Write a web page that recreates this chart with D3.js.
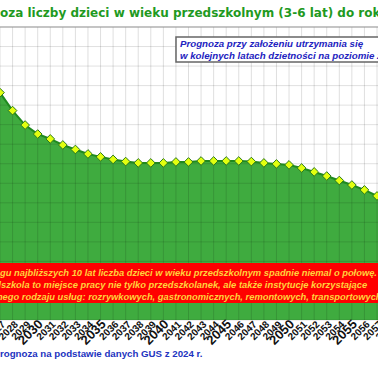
<!DOCTYPE html>
<html>
<head>
<meta charset="utf-8">
<script src="https://cdn.jsdelivr.net/npm/d3@7"></script>
<style>
  body { margin: 0; background: #fff; }
  svg { display: block; }
</style>
</head>
<body>
<svg id="chart" width="378" height="370"></svg>
<script>
// years (2026 and 2058 fall just outside the cropped view)
const years = [2026, 2027, 2028, 2029, 2030, 2031, 2032, 2033, 2034, 2035, 2036, 2037,
  2038, 2039, 2040, 2041, 2042, 2043, 2044, 2045, 2046, 2047, 2048, 2049, 2050,
  2051, 2052, 2053, 2054, 2055, 2056, 2057, 2058];
// children aged 3-6, thousands
const children = [1260, 1164, 1072, 998, 952, 927, 896, 873, 850, 835, 822, 811,
  804, 804, 804, 809, 809, 814, 814, 814, 814, 811, 804, 799, 794,
  778, 758, 737, 714, 691, 666, 635, 605];
const bigYears = [2030, 2035, 2040, 2045, 2050, 2055, 2060];

const titleText = 'Prognoza liczby dzieci w wieku przedszkolnym (3-6 lat) do roku 2060';
const noteLines = ['Prognoza przy założeniu utrzymania się',
  'w kolejnych latach dzietności na poziomie 2024 r.'];
const redLines = ['W ciągu najbliższych 10 lat liczba dzieci w wieku przedszkolnym spadnie niemal o połowę.',
  'Przedszkola to miejsce pracy nie tylko przedszkolanek, ale także instytucje korzystające',
  'z różnego rodzaju usług: rozrywkowych, gastronomicznych, remontowych, transportowych., etc.'];
const sourceText = 'Prognoza na podstawie danych GUS z 2024 r.';

const data = years.map((y, i) => ({ year: y, value: children[i] }));

const svg = d3.select('#chart');
const plotTop = 27, plotBottom = 320;
const arial = 'Arial, "Liberation Sans", sans-serif';

const x = d3.scaleLinear().domain([2027, 2057]).range([0, 377]);
const y = d3.scaleLinear().domain([0, 1500]).range([plotBottom, plotTop]);

// width of a piece of text, used to push the cropped start off the left edge
function textWidth(str, font, size, weight, style) {
  const t = svg.append('text')
    .attr('font-family', font)
    .attr('font-size', size)
    .attr('font-weight', weight)
    .attr('font-style', style || 'normal')
    .text(str);
  const w = t.node().getComputedTextLength();
  t.remove();
  return w;
}

// title
const titleFont = 'Verdana, "DejaVu Sans", sans-serif';
svg.append('text')
  .attr('x', -textWidth('Progn', titleFont, 12, 'bold'))
  .attr('y', 17)
  .attr('font-family', titleFont)
  .attr('font-weight', 'bold')
  .attr('font-size', 12)
  .attr('fill', '#1f9a1f')
  .text(titleText);

// area
const area = d3.area()
  .x(d => x(d.year))
  .y0(y(0))
  .y1(d => y(d.value));
svg.append('path')
  .datum(data)
  .attr('d', area)
  .attr('fill', '#3fab3f');

// grid over the area
const grid = svg.append('g');
grid.selectAll('.vg')
  .data(years)
  .enter()
  .append('line')
  .attr('x1', d => x(d)).attr('x2', d => x(d))
  .attr('y1', plotTop).attr('y2', plotBottom)
  .attr('stroke', 'rgba(0,0,0,0.13)')
  .attr('stroke-width', 1);
grid.selectAll('.hg')
  .data(y.ticks(15))
  .enter()
  .append('line')
  .attr('x1', 0).attr('x2', 378)
  .attr('y1', d => y(d)).attr('y2', d => y(d))
  .attr('stroke', 'rgba(0,0,0,0.12)')
  .attr('stroke-width', 1);
svg.append('line')
  .attr('x1', 0).attr('x2', 378)
  .attr('y1', plotTop).attr('y2', plotTop)
  .attr('stroke', '#999');

const line = d3.line()
  .x(d => x(d.year))
  .y(d => y(d.value));
svg.append('path')
  .datum(data)
  .attr('d', line)
  .attr('fill', 'none')
  .attr('stroke', '#1f8a1f')
  .attr('stroke-width', 2);

// diamond markers
svg.selectAll('.mk')
  .data(data)
  .enter()
  .append('path')
  .attr('d', d3.symbol().type(d3.symbolDiamond2).size(48))
  .attr('transform', d => `translate(${x(d.year)}, ${y(d.value)})`)
  .attr('fill', '#e2ff10')
  .attr('stroke', '#2a7a1a')
  .attr('stroke-width', 1);

// x axis labels
svg.selectAll('.yl')
  .data(years)
  .enter()
  .append('text')
  .attr('text-anchor', 'end')
  .attr('transform', d => `translate(${x(d) + 6}, ${plotBottom + 5}) rotate(-45)`)
  .attr('font-family', arial)
  .attr('font-weight', 'bold')
  .attr('font-size', d => bigYears.includes(d) ? 13 : 10)
  .attr('fill', '#111')
  .text(d => d);

// note box (blue)
const note = svg.append('g').attr('transform', 'translate(176, 37)');
note.append('rect')
  .attr('width', 260).attr('height', 25)
  .attr('fill', '#fff')
  .attr('stroke', '#666')
  .attr('stroke-width', 1.5);
note.selectAll('text')
  .data(noteLines)
  .enter()
  .append('text')
  .attr('x', 4)
  .attr('y', (d, i) => 10 + i * 12)
  .attr('font-family', arial)
  .attr('font-weight', 'bold')
  .attr('font-style', 'italic')
  .attr('font-size', 9.7)
  .attr('fill', '#2222c0')
  .text(d => d);

// red box
const redSize = 9.35;
const redShift = textWidth('W cią', arial, redSize, 'bold', 'italic');
const red = svg.append('g').attr('transform', 'translate(-40, 263)');
red.append('rect')
  .attr('width', 460).attr('height', 40)
  .attr('fill', '#ff0000');
red.selectAll('text')
  .data(redLines)
  .enter()
  .append('text')
  .attr('x', 40 - redShift)
  .attr('y', (d, i) => 13 + i * 12)
  .attr('font-family', arial)
  .attr('font-weight', 'bold')
  .attr('font-style', 'italic')
  .attr('font-size', redSize)
  .attr('fill', '#ffd23c')
  .text(d => d);

// source
svg.append('text')
  .attr('x', -textWidth('P', arial, 9.7, 'bold'))
  .attr('y', 357)
  .attr('font-family', arial)
  .attr('font-weight', 'bold')
  .attr('font-size', 9.7)
  .attr('fill', '#2233c0')
  .text(sourceText);
</script>
</body>
</html>
